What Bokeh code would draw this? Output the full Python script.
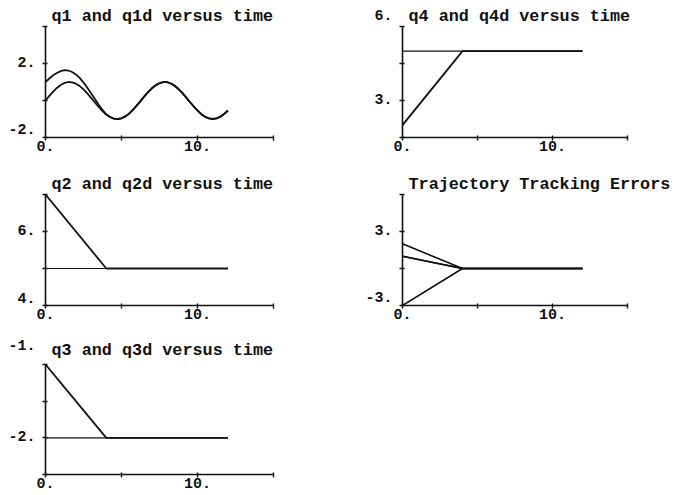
from bokeh.plotting import figure
from bokeh.layouts import gridplot
from bokeh.models import Range1d, FixedTicker
from bokeh.embed import file_html
from bokeh.resources import INLINE

# ---- data ----
t_fine = [0.0, 0.25, 0.5, 0.75, 1.0, 1.25, 1.5, 1.75, 2.0, 2.25, 2.5, 2.75,
          3.0, 3.25, 3.5, 3.75, 4.0, 4.25, 4.5, 4.75, 5.0, 5.25, 5.5, 5.75,
          6.0, 6.25, 6.5, 6.75, 7.0, 7.25, 7.5, 7.75, 8.0, 8.25, 8.5, 8.75,
          9.0, 9.25, 9.5, 9.75, 10.0, 10.25, 10.5, 10.75, 11.0, 11.25, 11.5,
          11.75, 12.0]
q1d = [0.00, 0.25, 0.48, 0.68, 0.84, 0.95, 1.00, 0.98, 0.91, 0.78, 0.60, 0.38,
       0.14, -0.11, -0.35, -0.57, -0.76, -0.89, -0.98, -1.00, -0.96, -0.86,
       -0.71, -0.51, -0.28, -0.03, 0.22, 0.45, 0.66, 0.82, 0.94, 0.99, 0.99,
       0.92, 0.80, 0.62, 0.41, 0.17, -0.08, -0.32, -0.54, -0.74, -0.88, -0.97,
       -1.00, -0.97, -0.88, -0.73, -0.54]
q1 = [1.00, 1.19, 1.36, 1.49, 1.59, 1.64, 1.62, 1.54, 1.41, 1.22, 0.97, 0.69,
      0.39, 0.08, -0.23, -0.51, -0.76, -0.89, -0.98, -1.00, -0.96, -0.86,
      -0.71, -0.51, -0.28, -0.03, 0.22, 0.45, 0.66, 0.82, 0.94, 0.99, 0.99,
      0.92, 0.80, 0.62, 0.41, 0.17, -0.08, -0.32, -0.54, -0.74, -0.88, -0.97,
      -1.00, -0.97, -0.88, -0.73, -0.54]

t_knots = [0, 4, 12]
q2 = [7, 5, 5]
q2d = [5, 5, 5]
q3 = [-1, -2, -2]
q3d = [-2, -2, -2]
q4 = [2, 5, 5]
q4d = [5, 5, 5]
e1 = [1, 0, 0]
e2 = [2, 0, 0]
e3 = [1, 0, 0]
e4 = [-3, 0, 0]

x_ticks = [0, 5, 10, 15]
x_tick_labels = ["0.", "", "10.", ""]

FONT = "Liberation Mono"
INK = "#111111"


def make_panel(title, width, height, bl, br, bt, bb, yr, yticks, ylabels,
               label_line_height=1.2, title_standoff=2):
    p = figure(width=width, height=height, output_backend="svg",
               toolbar_location=None, x_range=Range1d(0, 15),
               y_range=Range1d(*yr), min_border_left=bl, min_border_right=br,
               min_border_bottom=bb, min_border_top=bt)
    p.title.text = title
    p.title.text_font = FONT
    p.title.text_font_size = "16.8px"
    p.title.text_font_style = "bold"
    p.title.align = "left"
    p.title.offset = 6
    p.title.standoff = title_standoff
    p.title.text_color = INK
    p.grid.visible = False
    p.outline_line_color = None
    p.background_fill_color = "white"
    p.border_fill_color = "white"
    p.xaxis.ticker = FixedTicker(ticks=x_ticks, minor_ticks=[])
    p.xaxis.major_label_overrides = dict(zip(x_ticks, x_tick_labels))
    p.yaxis.ticker = FixedTicker(ticks=yticks, minor_ticks=[])
    p.yaxis.major_label_overrides = dict(zip(yticks, ylabels))
    for ax in (p.xaxis, p.yaxis):
        ax.axis_line_width = 1.6
        ax.axis_line_color = INK
        ax.major_tick_line_width = 1.4
        ax.major_tick_line_color = INK
        ax.major_tick_in = 2
        ax.major_tick_out = 3
        ax.major_label_text_font = FONT
        ax.major_label_text_font_size = "15px"
        ax.major_label_text_font_style = "bold"
        ax.major_label_text_color = INK
    p.xaxis.major_label_standoff = 0
    p.yaxis.major_label_standoff = 7
    p.yaxis.major_label_text_line_height = label_line_height
    return p


W1, W2 = 348, 326
H1, H2, H3 = 168, 165, 161
BT = 26

p1 = make_panel("q1 and q1d versus time", W1, H1, 45, 75, BT, 31, (-2, 4),
                [-2, 0, 2, 4], ["-2.\n ", "", "2.", ""],
                label_line_height=0.8)
p1.line(t_fine, q1d, line_color=INK, line_width=1.8)
p1.line(t_fine, q1, line_color=INK, line_width=1.8)

p2 = make_panel("q4 and q4d versus time", W2, H1, 54, 47, BT, 31, (1.5, 6),
                [1.5, 3, 4.5, 6], ["", "3.", "", "6.\n "])
p2.line(t_knots, q4d, line_color=INK, line_width=1.2)
p2.line(t_knots, q4, line_color=INK, line_width=1.8)

p3 = make_panel("q2 and q2d versus time", W1, H2, 45, 75, BT, 28, (4, 7),
                [4, 5, 6, 7], ["4.\n ", "", "6.", ""],
                label_line_height=0.7)
p3.line(t_knots, q2d, line_color=INK, line_width=1.2)
p3.line(t_knots, q2, line_color=INK, line_width=1.8)

p4 = make_panel("Trajectory Tracking Errors", W2, H2, 54, 47, BT, 28, (-3, 6),
                [-3, 0, 3, 6], ["-3.\n ", "", "3.", ""],
                label_line_height=0.8)
for e in (e1, e2, e3, e4):
    p4.line(t_knots, e, line_color=INK, line_width=1.6)

p5 = make_panel("q3 and q3d versus time", W1, H3, 45, 75, 30, 20, (-2.5, -1),
                [-2.5, -2, -1.5, -1], ["", "-2.", "", "-1.\n \n "],
                label_line_height=1.05, title_standoff=10)
p5.line(t_knots, q3d, line_color=INK, line_width=1.2)
p5.line(t_knots, q3, line_color=INK, line_width=1.8)

grid = gridplot([[p1, p2], [p3, p4], [p5, None]], toolbar_location=None)

open("out.html", "w").write(file_html(grid, INLINE))
